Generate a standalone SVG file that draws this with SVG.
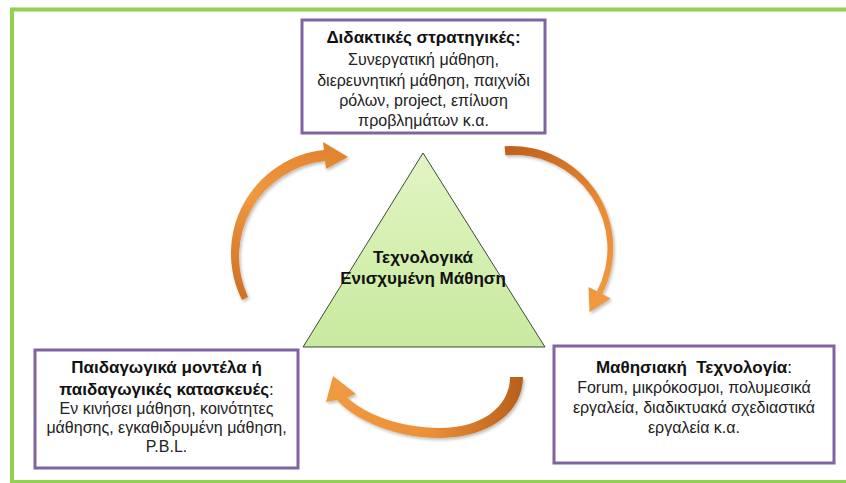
<svg xmlns="http://www.w3.org/2000/svg" width="846" height="483" viewBox="0 0 846 483">
<style>
.box{fill:#ffffff;stroke:#7f64a0;stroke-width:3}
.t{font-family:"Liberation Sans",Arial,sans-serif;text-anchor:middle;fill:#111}
.b{font-weight:bold;font-size:17px}
.r{font-size:16px;fill:#222}
.arrow{filter:url(#sh)}
</style>
<defs>
<filter id="sh" x="-20%" y="-20%" width="140%" height="140%">
<feDropShadow dx="1.5" dy="2" stdDeviation="1.5" flood-color="#000" flood-opacity="0.25"/>
</filter>
<linearGradient id="tri" x1="0" y1="0" x2="0" y2="1">
<stop offset="0" stop-color="#e2f5c4"/>
<stop offset="1" stop-color="#c8ea9e"/>
</linearGradient>
<linearGradient id="gL" gradientUnits="userSpaceOnUse" x1="240" y1="300" x2="345" y2="150">
<stop offset="0" stop-color="#cf7024"/>
<stop offset="0.5" stop-color="#f09840"/>
<stop offset="1" stop-color="#e0822e"/>
</linearGradient>
<linearGradient id="gR" gradientUnits="userSpaceOnUse" x1="505" y1="150" x2="595" y2="310">
<stop offset="0" stop-color="#c0621c"/>
<stop offset="0.5" stop-color="#e88a34"/>
<stop offset="1" stop-color="#f09a40"/>
</linearGradient>
<linearGradient id="gB" gradientUnits="userSpaceOnUse" x1="520" y1="380" x2="330" y2="390">
<stop offset="0" stop-color="#b8601c"/>
<stop offset="0.5" stop-color="#ec9038"/>
<stop offset="1" stop-color="#f09a40"/>
</linearGradient>
</defs>
<rect x="0" y="0" width="846" height="483" fill="#ffffff"/>
<rect x="12" y="9.5" width="900" height="472.5" fill="none" stroke="#92d050" stroke-width="4"/>

<g id="connectors">
<path class="arrow" fill="url(#gL)" d="M242,300 A104,104 0 0 1 324,150 L323,142 L348,157 L326,169 L325,161 A96,96 0 0 0 248,297 Z"/>
<path class="arrow" fill="url(#gR)" d="M504.6,146.3 A102,102 0 0 1 602.3,294.1 L610.7,298.4 L589.5,312.3 L588.5,287 L597,291.3 A93.5,93.5 0 0 0 505.4,155.3 Z"/>
<path class="arrow" fill="url(#gB)" d="M523,377 C523,415 485,438 440,438 C395,438 355,420 337,400 L326,402 L333,376 L356,394 L347,397.5 C365,414 400,428 440,428 C480,428 510,408 510,377 Z"/>
</g>

<g id="center">
<polygon points="423,153 303,347 545,347" fill="url(#tri)" stroke="#3c4a36" stroke-width="1"/>
<text class="t b" x="423" y="263">Τεχνολογικά</text>
<text class="t b" x="423" y="284">Ενισχυμένη Μάθηση</text>
</g>

<g id="strategies">
<rect class="box" x="302" y="20" width="243" height="113"/>
<text class="t b" x="423.5" y="43">Διδακτικές στρατηγικές:</text>
<text class="t r" x="423.5" y="65">Συνεργατική μάθηση,</text>
<text class="t r" x="423.5" y="86">διερευνητική μάθηση, παιχνίδι</text>
<text class="t r" x="423.5" y="106">ρόλων, project, επίλυση</text>
<text class="t r" x="423.5" y="126">προβλημάτων κ.α.</text>
</g>

<g id="models">
<rect class="box" x="35" y="350" width="263" height="118"/>
<text class="t b" x="166.5" y="373">Παιδαγωγικά μοντέλα ή</text>
<text class="t b" x="166.5" y="395">παιδαγωγικές κατασκευές<tspan font-weight="normal">:</tspan></text>
<text class="t r" x="166.5" y="414">Εν κινήσει μάθηση, κοινότητες</text>
<text class="t r" x="166.5" y="433">μάθησης, εγκαθιδρυμένη μάθηση,</text>
<text class="t r" x="166.5" y="452">P.B.L.</text>
</g>

<g id="technology">
<rect class="box" x="554" y="346" width="280" height="117"/>
<text class="t b" x="694" y="373" style="white-space:pre">Μαθησιακή  Τεχνολογία<tspan font-weight="normal">:</tspan></text>
<text class="t r" x="694" y="393">Forum, μικρόκοσμοι, πολυμεσικά</text>
<text class="t r" x="694" y="413">εργαλεία, διαδικτυακά σχεδιαστικά</text>
<text class="t r" x="694" y="433">εργαλεία κ.α.</text>
</g>
</svg>
